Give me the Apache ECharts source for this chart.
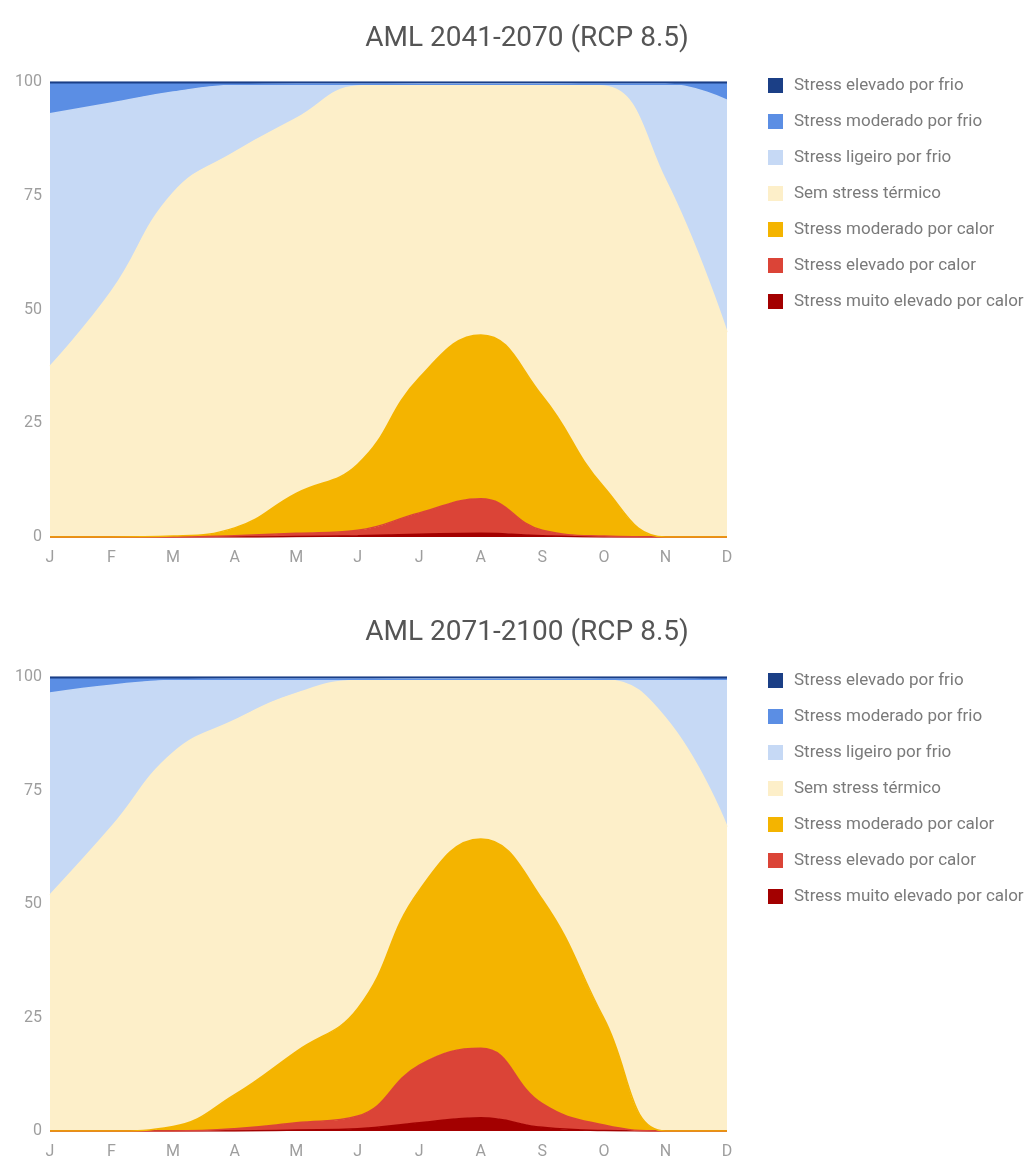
<!DOCTYPE html>
<html>
<head>
<meta charset="utf-8">
<title>AML RCP 8.5</title>
<script src="https://cdn.jsdelivr.net/npm/echarts@6/dist/echarts.min.js"></script>
<style>
  html, body { margin: 0; padding: 0; background: #fff; }
  #chart { width: 1031px; height: 1160px; }
</style>
</head>
<body>
<div id="chart"></div>
<script>
// months (label = first letter)
var months = ['Jan', 'Fev', 'Mar', 'Abr', 'Mai', 'Jun', 'Jul', 'Ago', 'Set', 'Out', 'Nov', 'Dez'];
var yTicks = [0, 25, 50, 75, 100];

var titles = ['AML 2041-2070 (RCP 8.5)', 'AML 2071-2100 (RCP 8.5)'];

// legend order, top to bottom
var names = [
  'Stress elevado por frio',
  'Stress moderado por frio',
  'Stress ligeiro por frio',
  'Sem stress térmico',
  'Stress moderado por calor',
  'Stress elevado por calor',
  'Stress muito elevado por calor'
];
var colors = ['#1b3f86', '#5b8ee4', '#c6d9f5', '#fdefc9', '#f4b400', '#db4437', '#a30000'];

// 2041-2070 (% of days)
var elevadoFrio1   = [0.5, 0.5, 0.5, 0.5, 0.5, 0.5, 0.5, 0.5, 0.5, 0.5, 0.5, 0.5];
var moderadoFrio1  = [6.5, 4.1, 1.7, 0.2, 0, 0, 0, 0, 0, 0, 0, 3.5];
var ligeiroFrio1   = [55.5, 41.4, 22.2, 14.7, 7.5, 0.4, 0, 0, 0, 0.4, 21, 51];
var semStress1     = [37.5, 54, 75.4, 82.6, 82.4, 83.1, 64.5, 55.1, 68.5, 88.1, 78.5, 45];
var moderadoCalor1 = [0, 0, 0.2, 1.7, 8.8, 14.5, 29.7, 36, 29.5, 10.8, 0, 0];
var elevadoCalor1  = [0, 0, 0, 0.3, 0.7, 1.2, 4.7, 7.6, 1.2, 0.2, 0, 0];
var muitoCalor1    = [0, 0, 0, 0, 0.1, 0.3, 0.6, 0.8, 0.3, 0, 0, 0];

// 2071-2100 (% of days)
var elevadoFrio2   = [0.5, 0.5, 0.5, 0.5, 0.5, 0.5, 0.5, 0.5, 0.5, 0.5, 0.5, 0.5];
var moderadoFrio2  = [3, 1.3, 0.2, 0, 0, 0, 0, 0, 0, 0, 0, 0.3];
var ligeiroFrio2   = [44.5, 31.2, 16, 9, 3.1, 0.2, 0, 0, 0, 0.1, 8.5, 32.2];
var semStress2     = [52, 67, 82.3, 82.5, 78.9, 72.3, 46.5, 35.2, 48.5, 74.6, 91, 67];
var moderadoCalor2 = [0, 0, 1, 7.5, 15.7, 23.7, 38.5, 46.1, 45, 23.5, 0, 0];
var elevadoCalor2  = [0, 0, 0, 0.5, 1.6, 2.8, 12.7, 15.3, 5.2, 1.2, 0, 0];
var muitoCalor2    = [0, 0, 0, 0, 0.2, 0.5, 1.8, 2.9, 0.8, 0.1, 0, 0];

var sets = [
  [elevadoFrio1, moderadoFrio1, ligeiroFrio1, semStress1, moderadoCalor1, elevadoCalor1, muitoCalor1],
  [elevadoFrio2, moderadoFrio2, ligeiroFrio2, semStress2, moderadoCalor2, elevadoCalor2, muitoCalor2]
];

var chartDom = document.getElementById('chart');
var myChart = echarts.init(chartDom);

var gridTops = [82, 677];
var titleTops = [20, 614];

var title = [], grid = [], xAxis = [], yAxis = [], legend = [], series = [];

for (var g = 0; g < 2; g++) {
  title.push({
    text: titles[g],
    left: 522,
    textAlign: 'center',
    top: titleTops[g],
    textStyle: { fontFamily: 'Roboto', fontWeight: 'normal', fontSize: 28, color: '#555' }
  });
  grid.push({ left: 50, width: 677, top: gridTops[g], height: 455 });
  xAxis.push({
    type: 'category',
    gridIndex: g,
    data: months,
    boundaryGap: false,
    axisLine: { show: false },
    axisTick: { show: false },
    axisLabel: {
      interval: 0,
      margin: 13,
      color: '#9e9e9e',
      fontFamily: 'Roboto',
      fontSize: 16,
      formatter: function (v) { return v.charAt(0); }
    }
  });
  yAxis.push({
    type: 'value',
    gridIndex: g,
    min: yTicks[0],
    max: yTicks[yTicks.length - 1],
    interval: 25,
    splitLine: { show: false },
    axisLine: { show: false },
    axisTick: { show: false },
    axisLabel: { margin: 8, color: '#9e9e9e', fontFamily: 'Roboto', fontSize: 16 }
  });
  legend.push({
    orient: 'vertical',
    left: 763,
    top: gridTops[g] - 10,
    data: names,
    icon: 'rect',
    itemWidth: 15,
    itemHeight: 15,
    itemGap: 19,
    selectedMode: false,
    textStyle: { color: '#7a7a7a', fontFamily: 'Roboto', fontSize: 17, padding: [0, 0, 0, 6] }
  });
  // stack from the bottom: hottest first
  for (var i = names.length - 1; i >= 0; i--) {
    series.push({
      name: names[i],
      type: 'line',
      xAxisIndex: g,
      yAxisIndex: g,
      stack: 'total' + g,
      smooth: 0.45,
      symbol: 'none',
      data: sets[g][i],
      itemStyle: { color: colors[i] },
      lineStyle: { color: colors[i], width: 1.5 },
      areaStyle: { color: colors[i], opacity: 1 }
    });
  }
}

var option = {
  backgroundColor: '#fff',
  animation: false,
  title: title,
  grid: grid,
  xAxis: xAxis,
  yAxis: yAxis,
  legend: legend,
  series: series
};

if (option && typeof option === 'object') {
  myChart.setOption(option);
}
</script>
</body>
</html>
